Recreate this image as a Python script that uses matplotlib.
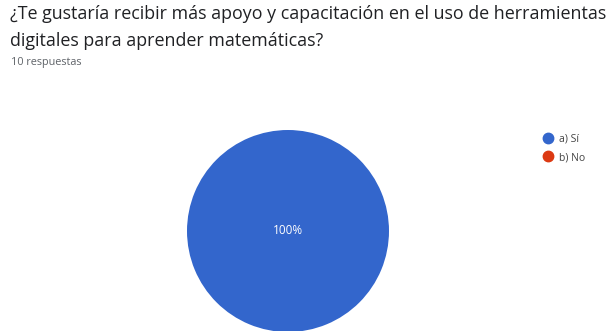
import matplotlib
matplotlib.use('Agg')
import matplotlib.pyplot as plt
from matplotlib.lines import Line2D

titulo = ['¿Te gustaría recibir más apoyo y capacitación en el uso de herramientas',
          'digitales para aprender matemáticas?']
respuestas = '10 respuestas'
opciones = ['a) Sí', 'b) No']
conteo = [10, 0]
colores = ['#3366cc', '#dc3912']

plt.rcParams['font.family'] = ['Open Sans', 'DejaVu Sans']

W, H = 613, 331
fig = plt.figure(figsize=(W / 100, H / 100), dpi=100)
fig.patch.set_facecolor('white')

# encabezado de la pregunta
fig.text(10 / W, 1 - 14 / H, titulo[0], fontsize=12.85, color='#202124', va='center', ha='left')
fig.text(10 / W, 1 - 41 / H, titulo[1], fontsize=12.85, color='#202124', va='center', ha='left')
fig.text(11 / W, 1 - 63 / H, respuestas, fontsize=7.8, color='#5f6368', va='center', ha='left')

# pastel
cx, cy, r = 288, H - 231, 101
ax = fig.add_axes([(cx - r) / W, (cy - r) / H, 2 * r / W, 2 * r / H])


def etiqueta(p):
    return f'{p:.0f}%' if p > 0 else ''


ax.pie(conteo, colors=colores, startangle=90, counterclock=False,
       autopct=etiqueta, pctdistance=0, radius=1,
       textprops={'color': 'white', 'fontsize': 8.5})
ax.set_xlim(-1, 1)
ax.set_ylim(-1, 1)
ax.set_aspect('equal')
ax.axis('off')

# leyenda
handles = [Line2D([], [], marker='o', linestyle='', markersize=7.5,
                  markerfacecolor=c, markeredgecolor=c) for c in colores]
fig.legend(handles, opciones, loc='upper left', bbox_to_anchor=(538 / W, 1 - 128 / H),
           frameon=False, fontsize=7.5, handletextpad=0.5, labelspacing=0.75,
           handlelength=1.0, borderpad=0, labelcolor='#444444')

fig.savefig('out.png', dpi=100)
